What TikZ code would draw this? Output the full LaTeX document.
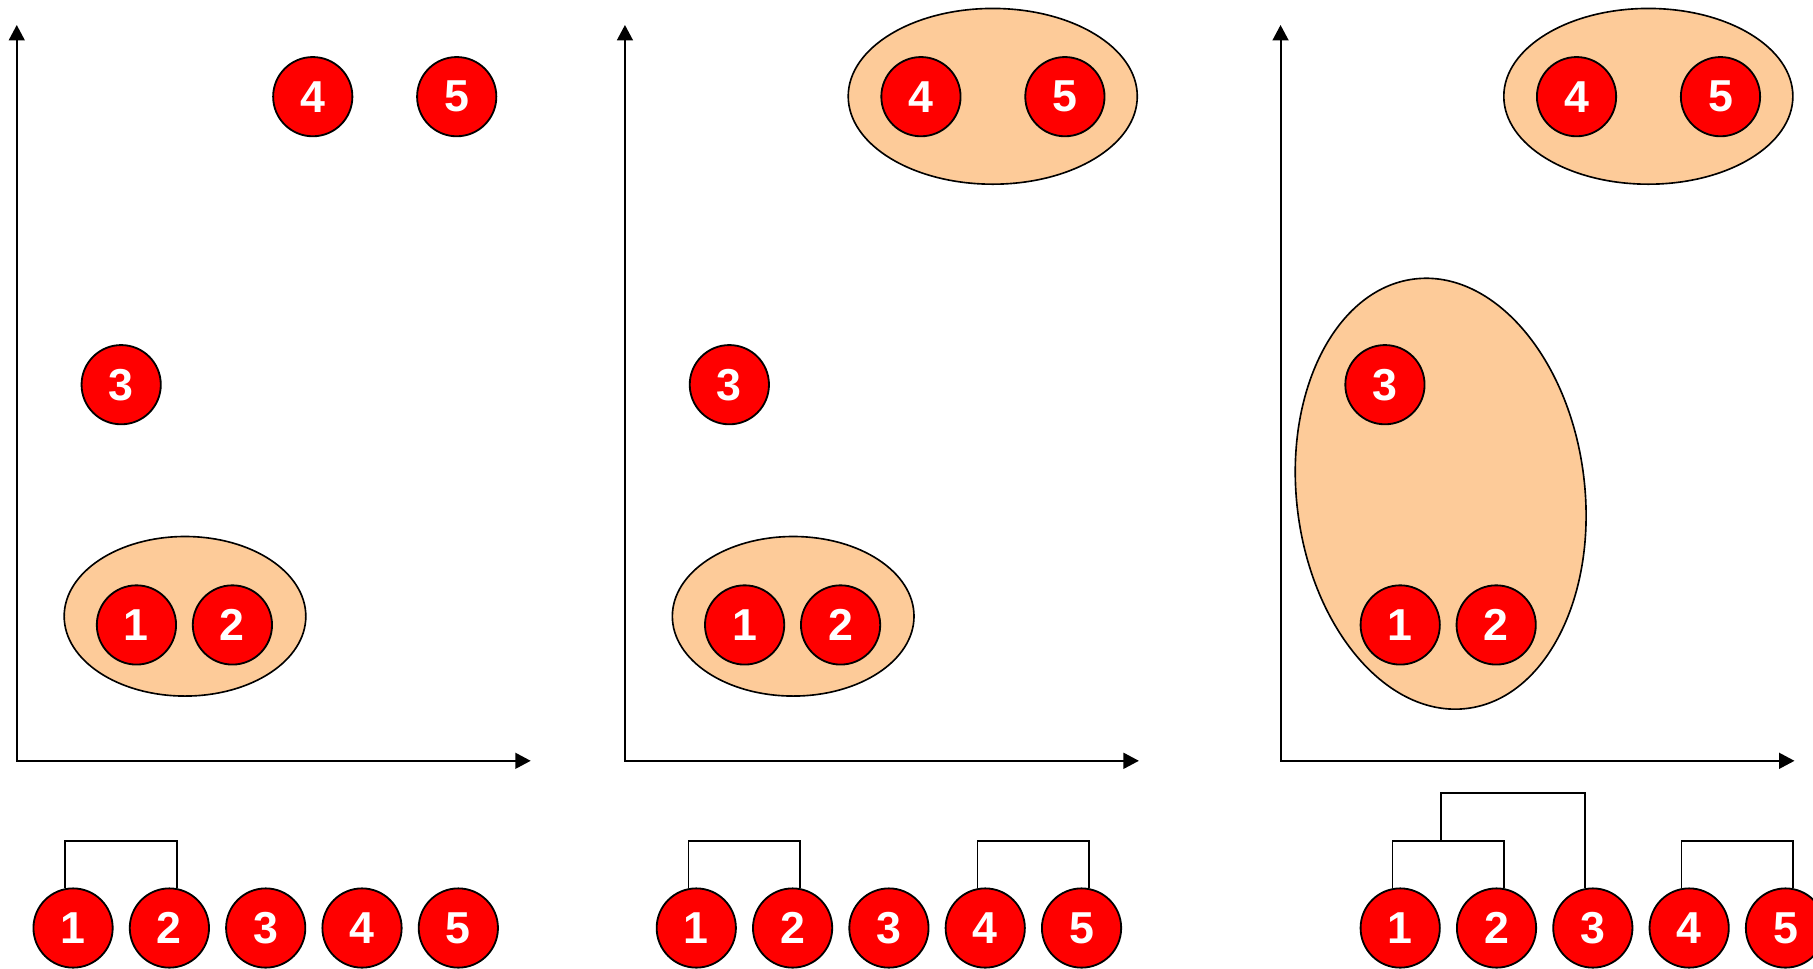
\documentclass[tikz,border=0pt]{standalone}
\usepackage{fontspec}
\setmainfont{Liberation Sans}
\usetikzlibrary{arrows.meta}
\definecolor{peach}{HTML}{FDCB99}
\begin{document}
\begin{tikzpicture}[x=0.01cm,y=-0.01cm,
  pt/.style={circle,draw=black,line width=0.45pt,fill=red,text=white,minimum size=0.685cm,inner sep=0pt,font=\bfseries\fontsize{11}{11}\selectfont},
  cluster/.style={draw=black,line width=0.4pt,fill=peach},
  axis/.style={line width=0.5pt,{Triangle[length=3.8pt,width=3.9pt]}-{Triangle[length=3.8pt,width=3.9pt]}},
  bracket/.style={line width=0.45pt}]
\clip (0,0) rectangle (1568,837.2);
\fill[white] (0,0) rectangle (1568,837.2);

% ---------- Panel 1 ----------
\coordinate (o1) at (14.5,658);
\coordinate (y1) at (14.5,21.6);
\coordinate (x1) at (459,658);
\draw[axis] (y1) -- (o1) -- (x1);
\draw[cluster] (160,533) ellipse [x radius=104.5,y radius=69];
\node[pt] (A1) at (118,540.5) {1};
\node[pt] (A2) at (201,540.5) {2};
\node[pt] (A3) at (104.8,332.7) {3};
\node[pt] (A4) at (270.5,83.6) {4};
\node[pt] (A5) at (395,83.6) {5};

% ---------- Panel 2 ----------
\coordinate (o2) at (540.5,658);
\coordinate (y2) at (540.5,21.6);
\coordinate (x2) at (985,658);
\draw[axis] (y2) -- (o2) -- (x2);
\draw[cluster] (686,533) ellipse [x radius=104.5,y radius=69];
\draw[cluster] (858.6,83.3) ellipse [x radius=125,y radius=76];
\node[pt] (B1) at (644,540.5) {1};
\node[pt] (B2) at (727,540.5) {2};
\node[pt] (B3) at (630.8,332.7) {3};
\node[pt] (B4) at (796.5,83.6) {4};
\node[pt] (B5) at (921,83.6) {5};

% ---------- Panel 3 ----------
\coordinate (o3) at (1107.5,658);
\coordinate (y3) at (1107.5,21.6);
\coordinate (x3) at (1552,658);
\draw[axis] (y3) -- (o3) -- (x3);
\draw[cluster] (1425.6,83.3) ellipse [x radius=125,y radius=76];
\draw[cluster,rotate around={7:(1246,427)}] (1246,427) ellipse [x radius=124.6,y radius=187.1];
\node[pt] (C1) at (1211,540.5) {1};
\node[pt] (C2) at (1294,540.5) {2};
\node[pt] (C3) at (1197.8,332.7) {3};
\node[pt] (C4) at (1363.5,83.6) {4};
\node[pt] (C5) at (1488,83.6) {5};

% ---------- Dendrogram rows ----------
\foreach \x/\n in {63.2/a,146.5/b,229.8/c,313.1/d,396.4/e}
  \node[pt] (R1\n) at (\x,802.6) {};
\foreach \x/\n in {602.2/a,685.5/b,768.8/c,852.1/d,935.4/e}
  \node[pt] (R2\n) at (\x,802.6) {};
\foreach \x/\n in {1211/a,1294.3/b,1377.6/c,1460.9/d,1544.2/e}
  \node[pt] (R3\n) at (\x,802.6) {};
\foreach \r in {1,2,3}{
  \node[pt,fill=none,draw=none] at (R\r a) {1};
  \node[pt,fill=none,draw=none] at (R\r b) {2};
  \node[pt,fill=none,draw=none] at (R\r c) {3};
  \node[pt,fill=none,draw=none] at (R\r d) {4};
  \node[pt,fill=none,draw=none] at (R\r e) {5};
}

\coordinate (t1ab) at (104.8,727);
\draw[bracket] (R1a.101) |- (t1ab) -| (R1b.79);

\coordinate (t2ab) at (643.8,727);
\draw[bracket] (R2a.101) |- (t2ab) -| (R2b.79);
\coordinate (t2de) at (893.7,727);
\draw[bracket] (R2d.101) |- (t2de) -| (R2e.79);

\coordinate (t3ab) at (1252.6,727);
\draw[bracket] (R3a.101) |- (t3ab) -| (R3b.79);
\coordinate (u3a) at (1246,727);
\coordinate (u3b) at (1246,685.5);
\draw[bracket] (u3a) -- (u3b) -| (R3c.101);
\coordinate (t3de) at (1502.5,727);
\draw[bracket] (R3d.101) |- (t3de) -| (R3e.79);
\end{tikzpicture}
\end{document}
